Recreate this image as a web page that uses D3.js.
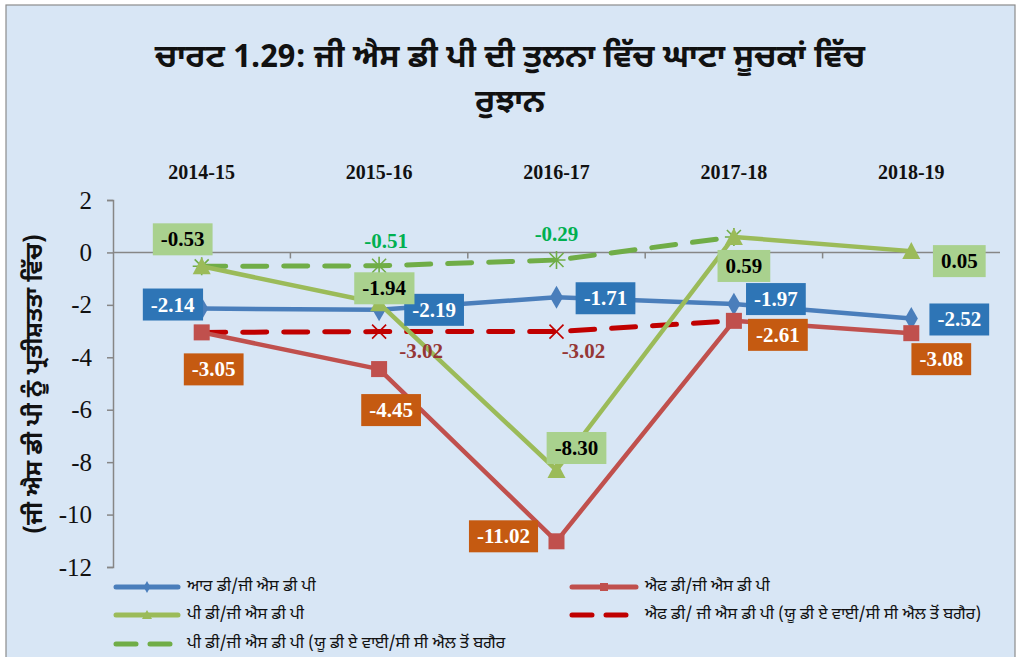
<!DOCTYPE html>
<html>
<head>
<meta charset="utf-8">
<script src="https://cdn.jsdelivr.net/npm/d3@7"></script>
<style>
  body { margin: 0; background: #fff; }
  svg { display: block; }
</style>
</head>
<body>
<svg width="1019" height="657"></svg>
<script>
const categories = ["2014-15", "2015-16", "2016-17", "2017-18", "2018-19"];
const rdValues = [-2.14, -2.19, -1.71, -1.97, -2.52];
const fdValues = [-3.05, -4.45, -11.02, -2.61, -3.08];
const pdValues = [-0.53, -1.94, -8.30, 0.59, 0.05];
const fdExclValues = [-3.05, -3.02, -3.02, -2.61];
const pdExclValues = [-0.53, -0.51, -0.29, 0.59];
const yTicks = [2, 0, -2, -4, -6, -8, -10, -12];

const seriesNames = [
    "ਆਰ ਡੀ/ਜੀ ਐਸ ਡੀ ਪੀ",
    "ਐਫ ਡੀ/ਜੀ ਐਸ ਡੀ ਪੀ",
    "ਪੀ ਡੀ/ਜੀ ਐਸ ਡੀ ਪੀ",
    "ਐਫ ਡੀ/ ਜੀ ਐਸ ਡੀ ਪੀ (ਯੂ ਡੀ ਏ ਵਾਈ/ਸੀ ਸੀ ਐਲ ਤੋਂ ਬਗੈਰ)",
    "ਪੀ ਡੀ/ਜੀ ਐਸ ਡੀ ਪੀ (ਯੂ ਡੀ ਏ ਵਾਈ/ਸੀ ਸੀ ਐਲ ਤੋਂ ਬਗੈਰ"
];

const GUR = "'Noto Sans Gurmukhi', 'Lohit Gurmukhi', 'Noto Sans', sans-serif";
const SERIF = "'Liberation Serif', 'Times New Roman', serif";

const svg = d3.select("svg"),
    width = +svg.attr("width"),
    height = +svg.attr("height");

// background + frame
svg.append("rect")
    .attr("x", 6).attr("y", 5)
    .attr("width", 1009).attr("height", 660)
    .attr("fill", "#d8e6f5")
    .attr("stroke", "#8c8c8c")
    .attr("stroke-width", 1.2);

// title
const title = svg.append("text")
    .attr("font-family", GUR)
    .attr("text-anchor", "middle")
    .attr("font-size", 32)
    .attr("font-weight", "bold")
    .attr("fill", "#111");
title.append("tspan").attr("x", 510).attr("y", 67)
    .text("ਚਾਰਟ 1.29: ਜੀ ਐਸ ਡੀ ਪੀ ਦੀ ਤੁਲਨਾ ਵਿੱਚ ਘਾਟਾ ਸੂਚਕਾਂ ਵਿੱਚ");
title.append("tspan").attr("x", 510).attr("y", 112)
    .text("ਰੁਝਾਨ");

const x = d3.scaleBand().domain(categories).range([113, 1000]);
const y = d3.scaleLinear().domain([-12, 2]).range([567, 200]);
const cx = i => x(categories[i]) + x.bandwidth() / 2;

// y axis
const yAxis = svg.append("g")
    .attr("transform", "translate(113,0)")
    .call(d3.axisLeft(y).tickValues(yTicks).tickSize(6).tickSizeOuter(6));
yAxis.select(".domain").attr("stroke", "#868686").attr("stroke-width", 1.5);
yAxis.selectAll(".tick line").attr("stroke", "#868686").attr("stroke-width", 1.5);
yAxis.selectAll(".tick text")
    .attr("font-family", SERIF)
    .attr("font-size", 25)
    .attr("fill", "#111")
    .attr("x", -21)
    .text(d => d < 0 ? "-" + Math.abs(d) : d);

// x axis at zero
const xAxis = svg.append("g")
    .attr("transform", `translate(0,${y(0)})`);
xAxis.append("line")
    .attr("x1", 113).attr("x2", 1000)
    .attr("stroke", "#868686").attr("stroke-width", 1.5);
xAxis.selectAll(".xt")
    .data(categories.slice(1))
    .enter().append("line")
    .attr("x1", d => x(d)).attr("x2", d => x(d))
    .attr("y1", 0).attr("y2", 6)
    .attr("stroke", "#868686").attr("stroke-width", 1.5);

// category labels on top
svg.selectAll(".cat")
    .data(categories)
    .enter().append("text")
    .attr("font-family", SERIF)
    .attr("x", (d, i) => cx(i))
    .attr("y", 179)
    .attr("text-anchor", "middle")
    .attr("font-size", 20)
    .attr("font-weight", "bold")
    .attr("fill", "#111")
    .text(d => d);

// y axis title
svg.append("text")
    .attr("font-family", GUR)
    .attr("transform", "translate(42,384) rotate(-90)")
    .attr("text-anchor", "middle")
    .attr("font-size", 24)
    .attr("font-weight", "bold")
    .attr("fill", "#111")
    .text("(ਜੀ ਐਸ ਡੀ ਪੀ ਨੂੰ ਪ੍ਰਤੀਸ਼ਤਤਾ ਵਿੱਚ)");

const line = d3.line().x((d, i) => cx(i)).y(d => y(d));

const series = [
    { values: fdExclValues, color: "#c00000", dash: "24,17", marker: "x", width: 5 },
    { values: pdExclValues, color: "#70ad47", dash: "24,17", marker: "star", width: 5 },
    { values: rdValues, color: "#4a7ebb", dash: null, marker: "diamond", width: 4.5 },
    { values: fdValues, color: "#c0504d", dash: null, marker: "square", width: 4.5 },
    { values: pdValues, color: "#9bbb59", dash: null, marker: "triangle", width: 4.5 }
];

function drawMarker(g, type, color, px, py) {
    if (type === "diamond") {
        g.append("path")
            .attr("d", d3.symbol(d3.symbolDiamond, 150)())
            .attr("transform", `translate(${px},${py})`)
            .attr("fill", color);
    } else if (type === "square") {
        g.append("rect")
            .attr("x", px - 8).attr("y", py - 8)
            .attr("width", 16).attr("height", 16)
            .attr("fill", color);
    } else if (type === "triangle") {
        g.append("path")
            .attr("d", `M${px},${py - 9}L${px + 9},${py + 8}L${px - 9},${py + 8}Z`)
            .attr("fill", color);
    } else if (type === "x") {
        g.append("path")
            .attr("d", `M${px - 7},${py - 7}L${px + 7},${py + 7}M${px - 7},${py + 7}L${px + 7},${py - 7}`)
            .attr("stroke", color).attr("stroke-width", 1.6);
    } else if (type === "star") {
        g.append("path")
            .attr("d", `M${px - 7},${py - 7}L${px + 7},${py + 7}M${px - 7},${py + 7}L${px + 7},${py - 7}M${px},${py - 9}L${px},${py + 9}M${px - 9},${py}L${px + 9},${py}`)
            .attr("stroke", color).attr("stroke-width", 1.6);
    }
}

const plot = svg.append("g").attr("class", "plot");
series.forEach(s => {
    plot.append("path")
        .datum(s.values)
        .attr("d", line)
        .attr("fill", "none")
        .attr("stroke", s.color)
        .attr("stroke-width", s.width)
        .attr("stroke-linecap", s.dash ? "round" : "butt")
        .attr("stroke-linejoin", "round")
        .attr("stroke-dasharray", s.dash);
    s.values.forEach((v, i) => drawMarker(plot, s.marker, s.color, cx(i), y(v)));
});

// plain hyphen instead of unicode minus
const fmt = v => d3.format(".2f")(v).replace("\u2212", "-");

function boxLabel(v, i, dx, dy, fill, textColor) {
    const px = cx(i) + dx, py = y(v) + dy;
    const g = svg.append("g");
    const t = g.append("text")
        .attr("font-family", SERIF)
        .attr("x", px).attr("y", py)
        .attr("text-anchor", "middle")
        .attr("dominant-baseline", "central")
        .attr("font-size", 21)
        .attr("font-weight", "bold")
        .attr("fill", textColor)
        .text(fmt(v));
    const bb = t.node().getBBox();
    g.insert("rect", "text")
        .attr("x", bb.x - 8).attr("y", py - 16)
        .attr("width", bb.width + 16).attr("height", 32)
        .attr("fill", fill);
}

const rdOffsets = [[-29, -4], [55, 0], [49, 1], [42, -5], [48, 1]];
rdValues.forEach((v, i) => boxLabel(v, i, rdOffsets[i][0], rdOffsets[i][1], "#2e75b6", "#fff"));

const fdOffsets = [[12, 37], [12, 41], [-53, -5], [44, 14], [30, 26]];
fdValues.forEach((v, i) => boxLabel(v, i, fdOffsets[i][0], fdOffsets[i][1], "#c55a11", "#fff"));

const pdOffsets = [[-19, -27], [5, -15], [20, -22], [10, 29], [48, 10]];
pdValues.forEach((v, i) => boxLabel(v, i, pdOffsets[i][0], pdOffsets[i][1], "#a9d18e", "#000"));

// plain labels for the "without" series
function plainLabel(v, i, dx, dy, color) {
    svg.append("text")
        .attr("font-family", SERIF)
        .attr("x", cx(i) + dx).attr("y", y(v) + dy)
        .attr("text-anchor", "middle")
        .attr("dominant-baseline", "central")
        .attr("font-size", 21)
        .attr("font-weight", "bold")
        .attr("fill", color)
        .text(fmt(v));
}
plainLabel(pdExclValues[1], 1, 7, -25, "#00b050");
plainLabel(pdExclValues[2], 2, 0, -26, "#00b050");
plainLabel(fdExclValues[1], 1, 42, 19, "#953735");
plainLabel(fdExclValues[2], 2, 27, 19, "#953735");

// legend
const legendItems = [
    { name: seriesNames[0], color: "#4a7ebb", marker: "diamond", dash: null, col: 0, row: 0 },
    { name: seriesNames[1], color: "#c0504d", marker: "square", dash: null, col: 1, row: 0 },
    { name: seriesNames[2], color: "#9bbb59", marker: "triangle", dash: null, col: 0, row: 1 },
    { name: seriesNames[3], color: "#c00000", marker: "x", dash: "20,14", col: 1, row: 1 },
    { name: seriesNames[4], color: "#70ad47", marker: "star", dash: "20,14", col: 0, row: 2 }
];
const legend = svg.append("g").attr("class", "legend");
legendItems.forEach(d => {
    const lx = d.col === 0 ? 113 : 569;
    const ly = [587, 615, 644][d.row];
    const len = d.col === 0 ? 68 : 70;
    legend.append("line")
        .attr("x1", lx + 3).attr("x2", lx + len - 3)
        .attr("y1", ly).attr("y2", ly)
        .attr("stroke", d.color)
        .attr("stroke-width", 5)
        .attr("stroke-linecap", "round")
        .attr("stroke-dasharray", d.dash);
    const mx = lx + len / 2, my = ly;
    if (d.marker === "diamond") {
        legend.append("path").attr("d", d3.symbol(d3.symbolDiamond, 40)())
            .attr("transform", `translate(${mx},${my})`).attr("fill", d.color);
    } else if (d.marker === "square") {
        legend.append("rect").attr("x", mx - 4).attr("y", my - 4).attr("width", 8).attr("height", 8).attr("fill", d.color);
    } else if (d.marker === "triangle") {
        legend.append("path").attr("d", `M${mx},${my - 5}L${mx + 5},${my + 4}L${mx - 5},${my + 4}Z`).attr("fill", d.color);
    }
    legend.append("text")
        .attr("font-family", GUR)
        .attr("x", lx + len + 6).attr("y", ly)
        .attr("dominant-baseline", "central")
        .attr("font-size", 16.5)
        .attr("fill", "#111")
        .text(d.name);
});
</script>
</body>
</html>
